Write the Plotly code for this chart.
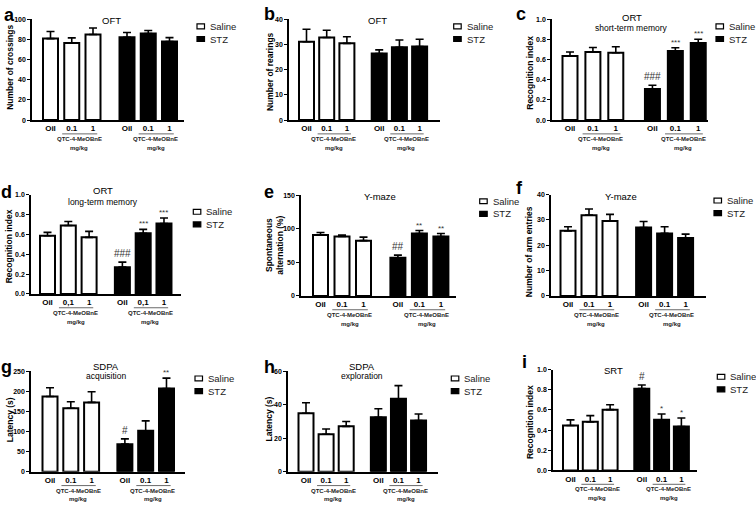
import plotly.graph_objects as go

# ---------------- data ----------------
categories = ["Oil", "0.1", "1"]
categories_d = ["Oil", "0,1", "1"]
saline_pos = [0, 1, 2]
stz_pos = [3.6, 4.6, 5.6]

# a  OFT - crossings
a_saline = [81, 76.5, 85]
a_saline_err = [7, 5.2, 6.5]
a_stz = [82.4, 86, 78]
a_stz_err = [4.6, 3, 4]
a_sig = ["", "", ""]

# b  OFT - rearings
b_saline = [31.0, 32.7, 30.4]
b_saline_err = [5, 2.9, 2.6]
b_stz = [26.4, 28.8, 29.1]
b_stz_err = [1.4, 2.9, 2.9]
b_sig = ["", "", ""]

# c  ORT short-term memory
c_saline = [0.637, 0.676, 0.670]
c_saline_err = [0.039, 0.046, 0.059]
c_stz = [0.31, 0.686, 0.765]
c_stz_err = [0.036, 0.033, 0.039]
c_sig = ["###", "***", "***"]

# d  ORT long-term memory
d_saline = [0.586, 0.69, 0.57]
d_saline_err = [0.034, 0.04, 0.06]
d_stz = [0.27, 0.61, 0.71]
d_stz_err = [0.05, 0.04, 0.055]
d_sig = ["###", "***", "***"]

# e  Y-maze spontaneous alternation
e_saline = [90.7, 88.7, 82.4]
e_saline_err = [3.9, 2.0, 5.3]
e_stz = [56.9, 93, 88.7]
e_stz_err = [3.9, 4.5, 4.3]
e_sig = ["##", "**", "**"]

# f  Y-maze arm entries
f_saline = [25.7, 31.9, 29.6]
f_saline_err = [1.6, 2.4, 2.6]
f_stz = [27, 24.7, 22.9]
f_stz_err = [2.4, 2.6, 1.5]
f_sig = ["", "", ""]

# g  SDPA acquisition
g_saline = [187, 157.7, 172.4]
g_saline_err = [22, 16.3, 26.6]
g_stz = [68.6, 102, 206.7]
g_stz_err = [13.1, 24.6, 26.1]
g_sig = ["#", "", "**"]

# h  SDPA exploration
h_saline = [34.9, 22.4, 27.1]
h_saline_err = [6.3, 3.1, 2.9]
h_stz = [32.5, 43.5, 30.6]
h_stz_err = [5.1, 7.9, 3.9]
h_sig = ["", "", ""]

# i  SRT
i_saline = [0.446, 0.482, 0.603]
i_saline_err = [0.056, 0.062, 0.048]
i_stz = [0.811, 0.502, 0.436]
i_stz_err = [0.036, 0.058, 0.085]
i_sig = ["#", "*", "*"]

y_ticks_a = [0, 20, 40, 60, 80, 100]
y_ticks_b = [0, 10, 20, 30, 40]
y_ticks_ri = [0.0, 0.2, 0.4, 0.6, 0.8, 1.0]
y_ticks_e = [0, 50, 100, 150]
y_ticks_f = [0, 10, 20, 30, 40]
y_ticks_g = [0, 50, 100, 150, 200, 250]
y_ticks_h = [0, 20, 40, 60]

group_label = "QTC-4-MeOBnE"
dose_unit = "mg/kg"
legend_names = ["Saline", "STZ"]

# ---------------- panel layout (pixels) ----------------
W, H = 756, 509
FONT = "Liberation Sans, Arial, sans-serif"

panels = [
    dict(letter="a", data=(a_saline, a_saline_err, a_stz, a_stz_err, a_sig), cats=categories,
         yticks=y_ticks_a, fmt="", ytitle="Number of crossings", titles=[("OFT", 0)],
         L=32, R=184, T=15.7, B=117.7, first=50.5, unit=21.25,
         title_x=111, title_y=17, ytitle_x=10, ytitle_dy=-2, letter_xy=(2, -1), leg=(197, 22.7)),
    dict(letter="b", data=(b_saline, b_saline_err, b_stz, b_stz_err, b_sig), cats=categories,
         yticks=y_ticks_b, fmt="", ytitle="Number of rearings", titles=[("OFT", 0)],
         L=289, R=440, T=15.3, B=117.7, first=306.5, unit=20.2,
         title_x=377, title_y=17, ytitle_x=269.5, ytitle_dy=2, letter_xy=(262, -2), leg=(453.7, 22.7)),
    dict(letter="c", data=(c_saline, c_saline_err, c_stz, c_stz_err, c_sig), cats=categories,
         yticks=y_ticks_ri, fmt=".1f", ytitle="Recognition index",
         titles=[("ORT", 0), ("short-term memory", 10.5)],
         L=552, R=708, T=15.7, B=117.7, first=570, unit=22.9,
         title_x=631.7, title_y=14, ytitle_x=530, ytitle_dy=3, letter_xy=(514, -2), leg=(716, 22.7)),
    dict(letter="d", data=(d_saline, d_saline_err, d_stz, d_stz_err, d_sig), cats=categories_d,
         yticks=y_ticks_ri, fmt=".1f", ytitle="Recognition index",
         titles=[("ORT", 0), ("long-term memory", 11.5)],
         L=31, R=181, T=193.3, B=294, first=47.5, unit=20.8,
         title_x=102.7, title_y=189, ytitle_x=9, ytitle_dy=2, letter_xy=(-1, 178), leg=(193.3, 210.7)),
    dict(letter="e", data=(e_saline, e_saline_err, e_stz, e_stz_err, e_sig), cats=categories,
         yticks=y_ticks_e, fmt="", ytitle="Spontaneous<br>alternation (%)", titles=[("Y-maze", 0)],
         L=301, R=456, T=194, B=296, first=320.5, unit=21.5,
         title_x=379.7, title_y=195, ytitle_x=275, ytitle_dy=0, letter_xy=(262, 178), leg=(479.7, 200)),
    dict(letter="f", data=(f_saline, f_saline_err, f_stz, f_stz_err, f_sig), cats=categories,
         yticks=y_ticks_f, fmt="", ytitle="Number of arm entries", titles=[("Y-maze", 0)],
         L=551, R=706, T=193.3, B=296, first=568, unit=21,
         title_x=620.7, title_y=195, ytitle_x=529, ytitle_dy=7, letter_xy=(514, 174), leg=(714, 199.3)),
    dict(letter="g", data=(g_saline, g_saline_err, g_stz, g_stz_err, g_sig), cats=categories,
         yticks=y_ticks_g, fmt="", ytitle="Latency (s)",
         titles=[("SDPA", 0), ("acquisition", 10)],
         L=31, R=185, T=372.3, B=474.3, first=50, unit=20.8,
         title_x=106, title_y=367.5, ytitle_x=9.7, ytitle_dy=-2, letter_xy=(-1, 356), leg=(195, 379.7)),
    dict(letter="h", data=(h_saline, h_saline_err, h_stz, h_stz_err, h_sig), cats=categories,
         yticks=y_ticks_h, fmt="", ytitle="Latency (s)",
         titles=[("SDPA", 0), ("exploration", 10)],
         L=288, R=438, T=372.3, B=474.3, first=306, unit=20.1,
         title_x=362, title_y=367.5, ytitle_x=269, ytitle_dy=-2, letter_xy=(262, 356), leg=(451.3, 379.7)),
    dict(letter="i", data=(i_saline, i_saline_err, i_stz, i_stz_err, i_sig), cats=categories,
         yticks=y_ticks_ri, fmt=".1f", ytitle="Recognition index", titles=[("SRT", 0)],
         L=553, R=697, T=370.7, B=473, first=570.5, unit=19.8,
         title_x=613, title_y=372, ytitle_x=530, ytitle_dy=2, letter_xy=(520, 351), leg=(717.3, 378)),
]


def px(x):
    return x / W


def py(y):
    return 1 - y / H


fig = go.Figure()
annotations = []
shapes = []
layout_axes = {}

for k, P in enumerate(panels, start=1):
    sal, sal_err, stz, stz_err, sig = P["data"]
    xa = "x" if k == 1 else f"x{k}"
    ya = "y" if k == 1 else f"y{k}"
    xkey = "xaxis" if k == 1 else f"xaxis{k}"
    ykey = "yaxis" if k == 1 else f"yaxis{k}"
    bw = 15.0 / P["unit"]

    fig.add_trace(go.Bar(
        x=saline_pos, y=sal, width=bw, name=legend_names[0], showlegend=False,
        marker=dict(color="white", line=dict(color="black", width=2)),
        error_y=dict(type="data", array=sal_err, arrayminus=[0] * len(sal_err), symmetric=False,
                     color="black", thickness=1.6, width=4),
        xaxis=xa, yaxis=ya))
    fig.add_trace(go.Bar(
        x=stz_pos, y=stz, width=bw, name=legend_names[1], showlegend=False,
        marker=dict(color="black", line=dict(color="black", width=2)),
        error_y=dict(type="data", array=stz_err, arrayminus=[0] * len(stz_err), symmetric=False,
                     color="black", thickness=1.6, width=4),
        xaxis=xa, yaxis=ya))

    lo = -(P["first"] - P["L"]) / P["unit"]
    hi = (P["R"] - P["first"]) / P["unit"]
    layout_axes[xkey] = dict(
        domain=[px(P["L"]), px(P["R"])], range=[lo, hi], anchor=ya,
        tickvals=saline_pos + stz_pos, ticktext=P["cats"] * 2,
        ticks="", showline=True, linecolor="black", linewidth=1.5,
        showgrid=False, zeroline=False, fixedrange=True,
        tickfont=dict(family=FONT, size=8, color="black", weight="bold"))
    ymax = P["yticks"][-1]
    layout_axes[ykey] = dict(
        domain=[py(P["B"]), py(P["T"])], range=[0, ymax], anchor=xa,
        tickvals=P["yticks"], tickformat=P["fmt"],
        ticks="outside", ticklen=3, tickwidth=1.3, tickcolor="black",
        showline=True, linecolor="black", linewidth=1.5,
        showgrid=False, zeroline=False, fixedrange=True,
        tickfont=dict(family=FONT, size=7, color="black", weight="bold"))

    # panel letter
    annotations.append(dict(
        text=P["letter"], x=px(P["letter_xy"][0]), y=py(P["letter_xy"][1]),
        xref="paper", yref="paper", xanchor="left", yanchor="top", showarrow=False,
        font=dict(family=FONT, size=18, color="black", weight="bold")))

    # y-axis title
    annotations.append(dict(
        text=P["ytitle"], x=px(P["ytitle_x"]), y=py((P["T"] + P["B"]) / 2 + P["ytitle_dy"]),
        xref="paper", yref="paper", xanchor="center", yanchor="middle", showarrow=False,
        textangle=-90, font=dict(family=FONT, size=8.5, color="black", weight="bold")))

    # panel titles
    for j, (t, dy) in enumerate(P["titles"]):
        annotations.append(dict(
            text=t, x=px(P["title_x"]), y=py(P["title_y"] + dy),
            xref="paper", yref="paper", xanchor="center", yanchor="middle", showarrow=False,
            font=dict(family=FONT, size=9.5 if j == 0 else 8.5, color="black")))

    # dose group label + underline
    for (a0, a1, cx) in [(0.55, 2.2, 1.35), (4.15, 5.8, 4.95)]:
        shapes.append(dict(type="line", xref=xa, yref="paper", x0=a0, x1=a1,
                           y0=py(P["B"] + 14), y1=py(P["B"] + 14),
                           line=dict(color="#444", width=0.8)))
        annotations.append(dict(
            text=group_label, x=cx, y=py(P["B"] + 19), xref=xa, yref="paper",
            xanchor="center", yanchor="middle", showarrow=False,
            font=dict(family=FONT, size=6, color="#222", weight="bold")))
        annotations.append(dict(
            text=dose_unit, x=cx, y=py(P["B"] + 28), xref=xa, yref="paper",
            xanchor="center", yanchor="middle", showarrow=False,
            font=dict(family=FONT, size=6, color="#222", weight="bold")))

    # significance marks above STZ bars
    for xpos, v, e, s in zip(stz_pos, stz, stz_err, sig):
        if s:
            annotations.append(dict(
                text=s, x=xpos, y=v + e, xref=xa, yref=ya, xanchor="center",
                yanchor="bottom", yshift=1 if s.startswith("#") else -1, showarrow=False,
                font=dict(family=FONT, size=10 if s.startswith("#") else 8, color="#333")))

    # legend (box + label)
    lx, ly = P["leg"]
    for n, (name, fill) in enumerate(zip(legend_names, ["white", "black"])):
        cy = ly + n * 12.8
        shapes.append(dict(type="rect", xref="paper", yref="paper",
                           x0=px(lx), x1=px(lx + 7.5), y0=py(cy - 2.5), y1=py(cy + 2.5),
                           fillcolor=fill, line=dict(color="black", width=1.2)))
        annotations.append(dict(
            text=name, x=px(lx + 11), y=py(cy), xref="paper", yref="paper",
            xanchor="left", yanchor="middle", showarrow=False,
            font=dict(family=FONT, size=9.5, color="#222")))

fig.update_layout(
    width=W, height=H, margin=dict(l=0, r=0, t=0, b=0),
    paper_bgcolor="white", plot_bgcolor="white",
    barmode="overlay", showlegend=False,
    annotations=annotations, shapes=shapes,
    **layout_axes)

fig.write_html("out.html", config={"displayModeBar": False},
               post_script="document.body.style.margin='0px';")
